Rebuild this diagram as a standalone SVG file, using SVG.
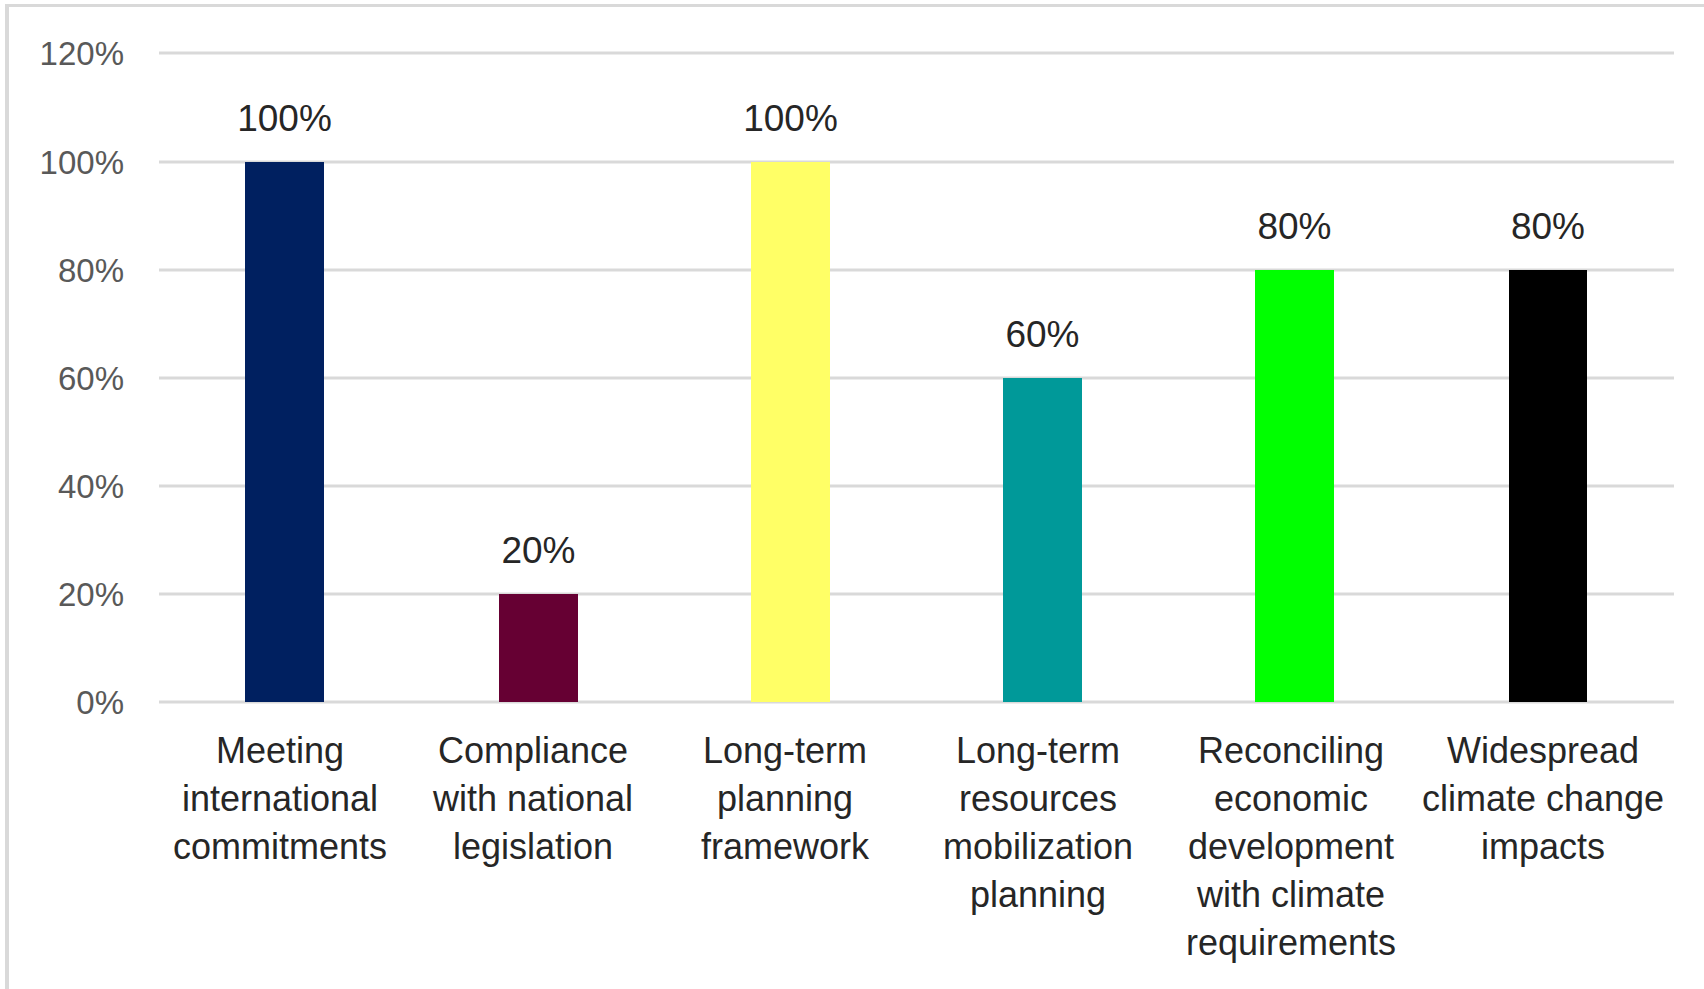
<svg xmlns="http://www.w3.org/2000/svg" width="1704" height="989" viewBox="0 0 1704 989">
<style>
.grid{stroke:#d9d9d9;stroke-width:3;fill:none}
.frame{stroke:#d9d9d9;fill:none}
.ax{font-family:"Liberation Sans",Arial,sans-serif;font-size:33px;fill:#595959;text-anchor:end}
.dl{font-family:"Liberation Sans",Arial,sans-serif;font-size:37px;fill:#262626;text-anchor:middle}
.cat{font-family:"Liberation Sans",Arial,sans-serif;font-size:36px;fill:#262626;text-anchor:middle}
</style>
<rect width="1704" height="989" fill="#ffffff"/>
<line class="frame" x1="7" y1="5.5" x2="1704" y2="5.5" stroke-width="3"/>
<line class="frame" x1="7" y1="4" x2="7" y2="989" stroke-width="4"/>
<g id="gridlines">
<line class="grid" x1="159" y1="53" x2="1674" y2="53"/>
<line class="grid" x1="159" y1="162" x2="1674" y2="162"/>
<line class="grid" x1="159" y1="270" x2="1674" y2="270"/>
<line class="grid" x1="159" y1="378" x2="1674" y2="378"/>
<line class="grid" x1="159" y1="486" x2="1674" y2="486"/>
<line class="grid" x1="159" y1="594" x2="1674" y2="594"/>
<line class="grid" x1="159" y1="702" x2="1674" y2="702"/>
</g>
<g id="yaxis">
<text class="ax" x="124" y="65">120%</text>
<text class="ax" x="124" y="174">100%</text>
<text class="ax" x="124" y="282">80%</text>
<text class="ax" x="124" y="390">60%</text>
<text class="ax" x="124" y="498">40%</text>
<text class="ax" x="124" y="606">20%</text>
<text class="ax" x="124" y="714">0%</text>
</g>
<g id="bar1">
<rect x="245" y="162" width="79" height="540" fill="#002060"/>
<text class="dl" x="284.5" y="131">100%</text>
<text class="cat" x="280" y="763">Meeting</text>
<text class="cat" x="280" y="811">international</text>
<text class="cat" x="280" y="859">commitments</text>
</g>
<g id="bar2">
<rect x="499" y="594" width="79" height="108" fill="#660033"/>
<text class="dl" x="538.5" y="563">20%</text>
<text class="cat" x="533" y="763">Compliance</text>
<text class="cat" x="533" y="811">with national</text>
<text class="cat" x="533" y="859">legislation</text>
</g>
<g id="bar3">
<rect x="751" y="162" width="79" height="540" fill="#ffff66"/>
<text class="dl" x="790.5" y="131">100%</text>
<text class="cat" x="785" y="763">Long-term</text>
<text class="cat" x="785" y="811">planning</text>
<text class="cat" x="785" y="859">framework</text>
</g>
<g id="bar4">
<rect x="1003" y="378" width="79" height="324" fill="#009999"/>
<text class="dl" x="1042.5" y="347">60%</text>
<text class="cat" x="1038" y="763">Long-term</text>
<text class="cat" x="1038" y="811">resources</text>
<text class="cat" x="1038" y="859">mobilization</text>
<text class="cat" x="1038" y="907">planning</text>
</g>
<g id="bar5">
<rect x="1255" y="270" width="79" height="432" fill="#00ff00"/>
<text class="dl" x="1294.5" y="239">80%</text>
<text class="cat" x="1291" y="763">Reconciling</text>
<text class="cat" x="1291" y="811">economic</text>
<text class="cat" x="1291" y="859">development</text>
<text class="cat" x="1291" y="907">with climate</text>
<text class="cat" x="1291" y="955">requirements</text>
</g>
<g id="bar6">
<rect x="1509" y="270" width="78" height="432" fill="#000000"/>
<text class="dl" x="1548" y="239">80%</text>
<text class="cat" x="1543" y="763">Widespread</text>
<text class="cat" x="1543" y="811">climate change</text>
<text class="cat" x="1543" y="859">impacts</text>
</g>
<g id="connectors"></g>
</svg>
